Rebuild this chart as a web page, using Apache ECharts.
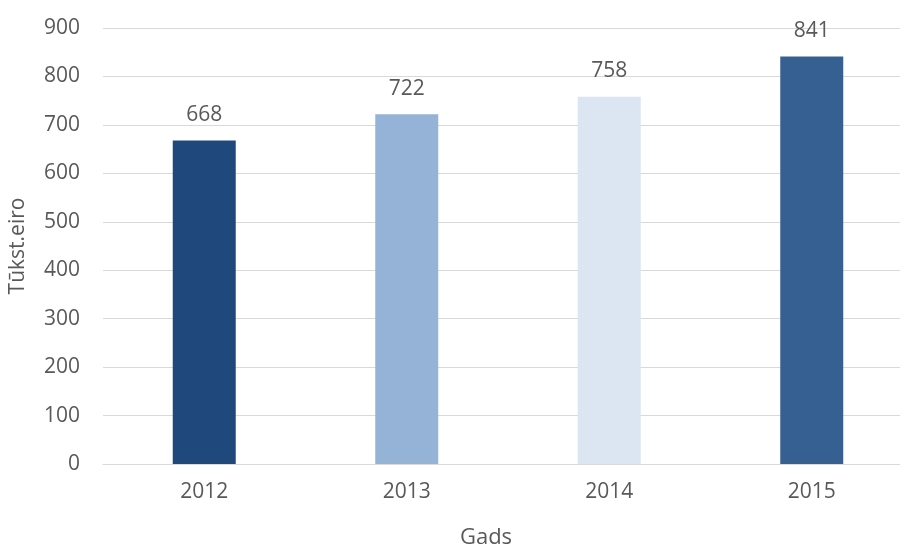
<!DOCTYPE html>
<html>
<head>
<meta charset="utf-8">
<script src="https://cdn.jsdelivr.net/npm/echarts@6/dist/echarts.min.js"></script>
<style>
  html, body { margin: 0; padding: 0; background: #fff; }
  #chart { width: 900px; height: 547px; }
</style>
</head>
<body>
<div id="chart"></div>
<script>
// Yearly totals, thousand euro
const years = ['2012', '2013', '2014', '2015'];
const values = [668, 722, 758, 841];
const barColors = ['#1F497D', '#95B3D7', '#DCE6F2', '#366092'];
const yTicks = [0, 100, 200, 300, 400, 500, 600, 700, 800, 900];

const textColor = '#595959';
const font = '"Open Sans", "Noto Sans", sans-serif';

const chart = echarts.init(document.getElementById('chart'));
chart.setOption({
  animation: false,
  textStyle: { fontFamily: font },
  grid: {
    left: 103, top: 28, width: 810, height: 436,
    containLabel: false,
    outerBoundsMode: 'none'
  },
  xAxis: {
    type: 'category',
    data: years,
    name: 'Gads',
    nameLocation: 'middle',
    nameGap: 63,
    // padding on the right nudges the title left of the plot centre
    nameTextStyle: { color: textColor, fontSize: 22, fontFamily: font, padding: [0, 44, 0, 0] },
    axisLine: { lineStyle: { color: '#D9D9D9', width: 1 } },
    axisTick: { show: false },
    axisLabel: { color: textColor, fontSize: 21, margin: 18, fontFamily: font }
  },
  yAxis: {
    type: 'value',
    min: yTicks[0],
    max: yTicks[yTicks.length - 1],
    interval: 100,
    name: 'Tūkst.eiro',
    nameLocation: 'middle',
    nameGap: 74,
    nameTextStyle: { color: textColor, fontSize: 21, fontFamily: font },
    axisLine: { show: false },
    axisTick: { show: false },
    axisLabel: { color: textColor, fontSize: 21, margin: 23, fontFamily: font },
    splitLine: { lineStyle: { color: '#D9D9D9', width: 1 } }
  },
  series: [{
    type: 'bar',
    barWidth: 63,
    data: values.map((v, i) => ({ value: v, itemStyle: { color: barColors[i] } })),
    label: {
      show: true,
      position: 'top',
      distance: 15,
      color: textColor,
      fontSize: 21,
      fontFamily: font
    }
  }]
});
</script>
</body>
</html>
